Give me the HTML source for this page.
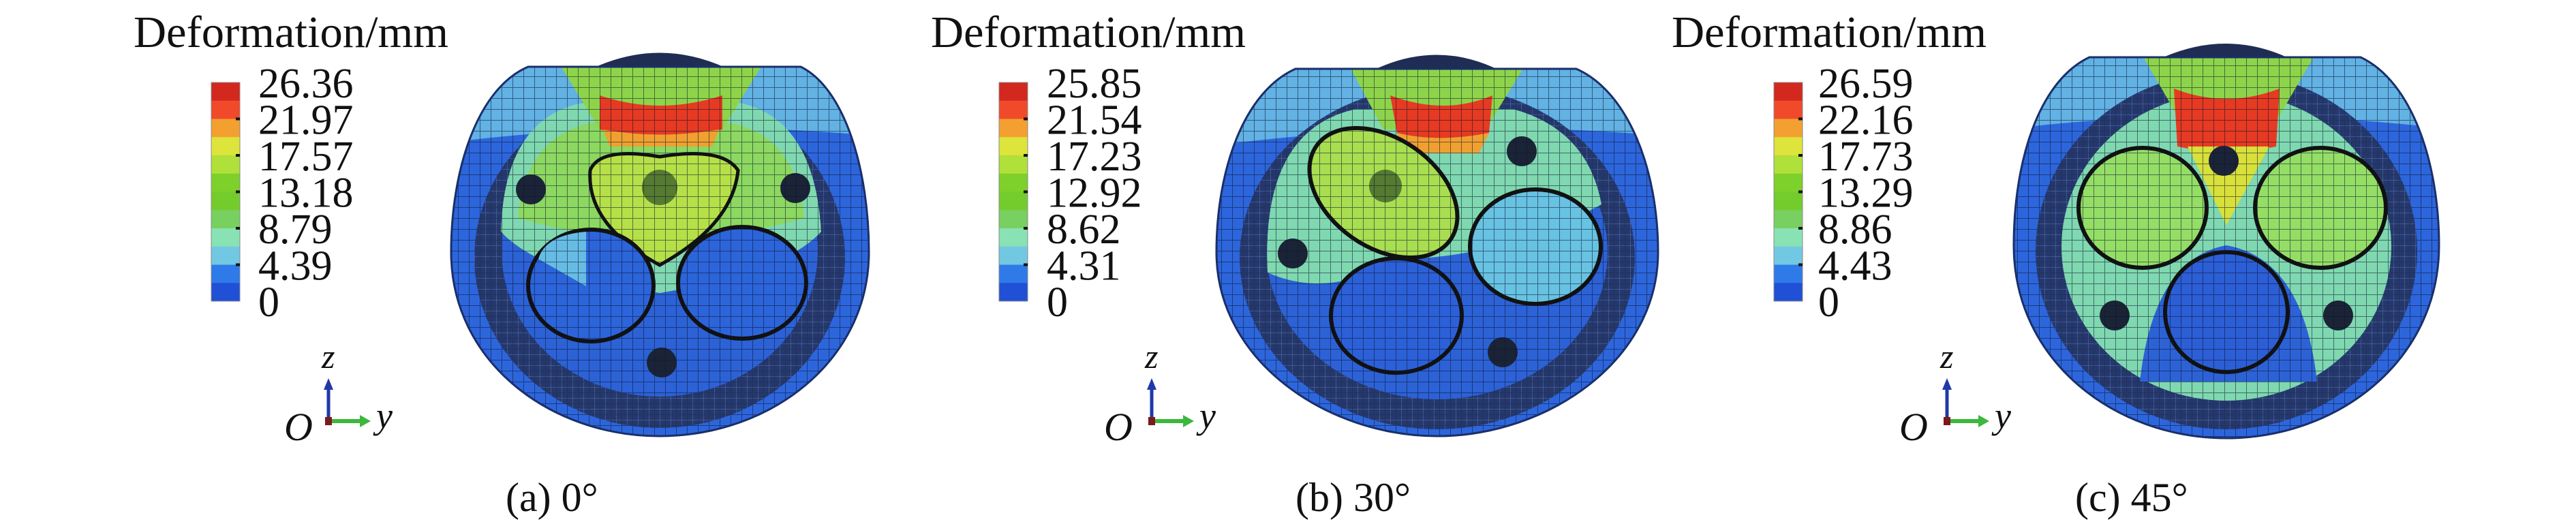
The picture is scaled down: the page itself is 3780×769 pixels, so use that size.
<!DOCTYPE html>
<html><head><meta charset="utf-8"><style>
html,body{margin:0;padding:0;background:#fff;}
svg{display:block;}
text{font-family:"Liberation Serif",serif;fill:#111;}
</style></head><body>
<svg id="fig" width="3780" height="769" viewBox="0 0 3780 769" xmlns="http://www.w3.org/2000/svg">
<defs>
<pattern id="mesh" width="16" height="16" patternUnits="userSpaceOnUse">
<path d="M0 0H16M0 0V16" stroke="#0b1430" stroke-width="2" fill="none" opacity="0.55"/>
</pattern>
<pattern id="fine" width="8" height="8" patternUnits="userSpaceOnUse">
<rect width="8" height="8" fill="#24386e"/>
<path d="M0 0H8M0 0V8" stroke="#8aa0c8" stroke-width="1" opacity="0.6"/>
</pattern>
<clipPath id="ca"><path d="M775,98 L1175,98 C1240,130 1275,250 1275,370 C1275,530 1130,640 968,640 C806,640 662,530 662,370 C662,250 700,130 775,98Z"/></clipPath>
<clipPath id="cb"><path d="M1901,101 L2313,101 C2390,135 2433,250 2433,370 C2433,530 2270,640 2109,640 C1948,640 1785,530 1785,370 C1785,250 1825,135 1901,101Z"/></clipPath>
<clipPath id="cc"><path d="M3066,84 L3464,84 C3540,120 3579,240 3579,360 C3579,530 3430,643 3267,643 C3104,643 2955,530 2955,360 C2955,240 2990,120 3066,84Z"/></clipPath>
</defs>

<!-- Panel a -->
<g>
<path d="M870 100 Q968 55 1066 100Z" fill="#1f2d55"/>
<g clip-path="url(#ca)">
<rect x="650" y="60" width="640" height="600" fill="#2d66dc"/>
<path d="M650 60 H1290 V200 Q968 170 650 210 Z" fill="#62b2e4"/>
<ellipse cx="968" cy="378" rx="272" ry="250" fill="url(#fine)"/>
<ellipse cx="968" cy="368" rx="232" ry="214" fill="#2c62d6"/>
<path d="M735 340 Q740 170 860 150 L1080 150 Q1195 170 1205 340 Q1150 400 968 430 Q790 400 735 340Z" fill="#7fd8b0"/>
<path d="M760 320 Q770 200 870 180 L1070 180 Q1170 200 1180 320 Q968 380 760 320Z" fill="#8cd860"/>
<path d="M800 60 H1140 L1060 190 H880 Z" fill="#8ed44a"/>
<path d="M880 140 Q968 170 1060 140 L1060 190 Q968 210 880 190Z" fill="#e63a22"/>
<path d="M885 190 Q968 205 1055 190 L1045 215 H895Z" fill="#f0a030"/>
<path d="M866 250 Q880 215 968 230 Q1060 215 1083 250 Q1075 330 968 389 Q860 330 866 250Z" fill="#b6e048" stroke="#111" stroke-width="5"/>
<ellipse cx="867" cy="419" rx="92" ry="82" fill="#2c64da" stroke="#111" stroke-width="6"/>
<path d="M790 380 Q800 345 860 340 L860 420 Z" fill="#66bce4"/>
<ellipse cx="1089" cy="415" rx="94" ry="82" fill="#2c64da" stroke="#111" stroke-width="6"/>
<circle cx="779" cy="278" r="22" fill="#1b2436"/>
<circle cx="1167" cy="276" r="22" fill="#1b2436"/>
<circle cx="971" cy="532" r="22" fill="#1b2436"/>
<circle cx="968" cy="275" r="26" fill="#557a30"/>
<rect x="650" y="60" width="640" height="600" fill="url(#mesh)"/>
</g>
<path d="M775,98 L1175,98 C1240,130 1275,250 1275,370 C1275,530 1130,640 968,640 C806,640 662,530 662,370 C662,250 700,130 775,98Z" fill="none" stroke="#1a2f6a" stroke-width="3"/>
</g>

<!-- Panel b -->
<g>
<path d="M2015 103 Q2109 58 2200 103Z" fill="#1f2d55"/>
<g clip-path="url(#cb)">
<rect x="1770" y="60" width="680" height="600" fill="#2d66dc"/>
<path d="M1770 60 H2450 V200 Q2109 170 1770 215 Z" fill="#62b2e4"/>
<ellipse cx="2109" cy="378" rx="290" ry="252" fill="url(#fine)"/>
<ellipse cx="2109" cy="370" rx="250" ry="216" fill="#2c62d6"/>
<path d="M1860 400 Q1850 190 1990 160 L2220 160 Q2330 190 2350 300 Q2200 380 2050 380 Q1950 440 1860 400Z" fill="#7fd8b0"/>
<path d="M1960 60 H2260 L2180 190 H2030 Z" fill="#8ed44a"/>
<path d="M2040 140 Q2120 170 2190 140 L2185 195 Q2110 210 2050 195Z" fill="#e63a22"/>
<path d="M2050 195 Q2110 210 2185 195 L2170 225 H2060Z" fill="#f0a030"/>
<ellipse cx="2030" cy="283" rx="120" ry="80" transform="rotate(35 2030 283)" fill="#a8de50" stroke="#111" stroke-width="6"/>
<ellipse cx="2253" cy="362" rx="96" ry="84" fill="#68c2e2" stroke="#111" stroke-width="6"/>
<ellipse cx="2049" cy="463" rx="96" ry="84" fill="#2c60d8" stroke="#111" stroke-width="6"/>
<circle cx="1897" cy="372" r="22" fill="#1b2436"/>
<circle cx="2233" cy="222" r="22" fill="#1b2436"/>
<circle cx="2205" cy="517" r="22" fill="#1b2436"/>
<circle cx="2033" cy="273" r="24" fill="#557a30"/>
<rect x="1770" y="60" width="680" height="600" fill="url(#mesh)"/>
</g>
<path d="M1901,101 L2313,101 C2390,135 2433,250 2433,370 C2433,530 2270,640 2109,640 C1948,640 1785,530 1785,370 C1785,250 1825,135 1901,101Z" fill="none" stroke="#1a2f6a" stroke-width="3"/>
</g>

<!-- Panel c -->
<g>
<path d="M3170 86 Q3267 42 3360 86Z" fill="#1f2d55"/>
<g clip-path="url(#cc)">
<rect x="2940" y="40" width="660" height="620" fill="#2d66dc"/>
<path d="M2940 40 H3600 V190 Q3267 150 2940 190 Z" fill="#62b2e4"/>
<ellipse cx="3267" cy="368" rx="280" ry="262" fill="url(#fine)"/>
<ellipse cx="3267" cy="362" rx="242" ry="226" fill="#7fd8b0"/>
<path d="M3140 560 Q3160 380 3267 360 Q3380 380 3400 560Z" fill="#2c62d6"/>
<path d="M3120 40 H3420 L3345 170 H3195 Z" fill="#8ed44a"/>
<path d="M3190 130 Q3267 160 3345 130 L3340 215 Q3267 230 3195 215Z" fill="#e63a22"/>
<path d="M3210 215 L3330 215 L3267 330Z" fill="#d8e03a"/>
<ellipse cx="3144" cy="305" rx="94" ry="88" fill="#94de66" stroke="#111" stroke-width="6"/>
<ellipse cx="3405" cy="305" rx="96" ry="88" fill="#94de66" stroke="#111" stroke-width="6"/>
<ellipse cx="3267" cy="458" rx="90" ry="88" fill="#2c5ed6" stroke="#111" stroke-width="6"/>
<circle cx="3263" cy="236" r="22" fill="#1b2436"/>
<circle cx="3103" cy="463" r="22" fill="#1b2436"/>
<circle cx="3431" cy="463" r="22" fill="#1b2436"/>
<rect x="2940" y="40" width="660" height="620" fill="url(#mesh)"/>
</g>
<path d="M3066,84 L3464,84 C3540,120 3579,240 3579,360 C3579,530 3430,643 3267,643 C3104,643 2955,530 2955,360 C2955,240 2990,120 3066,84Z" fill="none" stroke="#1a2f6a" stroke-width="3"/>
</g>

<g id="legends"></g>
</svg>
<script>
const panelIds = ["a", "b", "c"];
const panelAngles = ["0°", "30°", "45°"];
const tickLabelsA = ["26.36", "21.97", "17.57", "13.18", "8.79", "4.39", "0"];
const tickLabelsB = ["25.85", "21.54", "17.23", "12.92", "8.62", "4.31", "0"];
const tickLabelsC = ["26.59", "22.16", "17.73", "13.29", "8.86", "4.43", "0"];
const bandColors = ["#d2281e","#f04a2a","#f3a030","#dde43c","#b0e03a","#7ed02a","#74cc2c","#78d060","#88e2b4","#72c8e2","#2e7ae8","#2050d6"];

const NS = "http://www.w3.org/2000/svg";
const root = document.getElementById("legends");
const tickSets = [tickLabelsA, tickLabelsB, tickLabelsC];
const layout = [
  {title:196, bar:310, lab:379, tri:482, o:417, cap:742},
  {title:1366, bar:1466, lab:1536, tri:1690, o:1620, cap:1901},
  {title:2453, bar:2603, lab:2668, tri:2857, o:2787, cap:3045}
];
function mk(tag, attrs, parent){
  const e = document.createElementNS(NS, tag);
  for (const k in attrs) e.setAttribute(k, attrs[k]);
  parent.appendChild(e); return e;
}
const barTop = 121, barH = 321, barW = 42;
panelIds.forEach((id, p) => {
  const L = layout[p];
  const g = mk("g", {}, root);
  
  
  const t = mk("text", {x:L.title, y:69, "font-size":66, textLength:462, lengthAdjust:"spacingAndGlyphs"}, g);
  t.textContent = "Deformation/mm";
  
  
  const bh = barH / bandColors.length;
  bandColors.forEach((c, i) => {
    const r = mk("rect", {x:L.bar, y:barTop + i*bh, width:barW, height:bh+0.5, fill:c}, g);
    
    
  });
  mk("rect", {x:L.bar, y:barTop, width:barW, height:barH, fill:"none", stroke:"#8a8a8a", "stroke-width":1}, g);
  const labels = tickSets[p];
  const step = barH / (labels.length - 1);
  labels.forEach((s, i) => {
    const ty = barTop + i*step;
    if (i > 0 && i < labels.length - 1) mk("rect", {x:L.bar+barW-6, y:ty-2, width:6, height:4, fill:"#111"}, g);
    const tx = mk("text", {x:L.lab, y:ty+22, "font-size":62}, g);
    tx.textContent = s;
    
    
  });
  const x0 = L.tri, y0 = 618;
  mk("line", {x1:x0, y1:y0, x2:x0, y2:570, stroke:"#2038a8", "stroke-width":5}, g);
  mk("path", {d:`M${x0-7} 572 L${x0} 555 L${x0+7} 572Z`, fill:"#2038a8"}, g);
  mk("line", {x1:x0, y1:y0, x2:x0+48, y2:y0, stroke:"#3cb83c", "stroke-width":6}, g);
  mk("path", {d:`M${x0+46} ${y0-9} L${x0+62} ${y0} L${x0+46} ${y0+9}Z`, fill:"#3cb83c"}, g);
  mk("rect", {x:x0-5, y:y0-6, width:10, height:12, fill:"#7a1a1a"}, g);
  const z = mk("text", {x:x0-10, y:540, "font-size":50, "font-style":"italic"}, g); z.textContent = "z";
  
  
  const o = mk("text", {x:L.o, y:646, "font-size":58, "font-style":"italic"}, g); o.textContent = "O";
  
  
  const yl = mk("text", {x:x0+70, y:628, "font-size":54, "font-style":"italic"}, g); yl.textContent = "y";
  
  
  const cap = mk("text", {x:L.cap, y:750, "font-size":60}, g);
  cap.textContent = "(" + id + ") " + panelAngles[p];
  
  
});
</script>
</body></html>
